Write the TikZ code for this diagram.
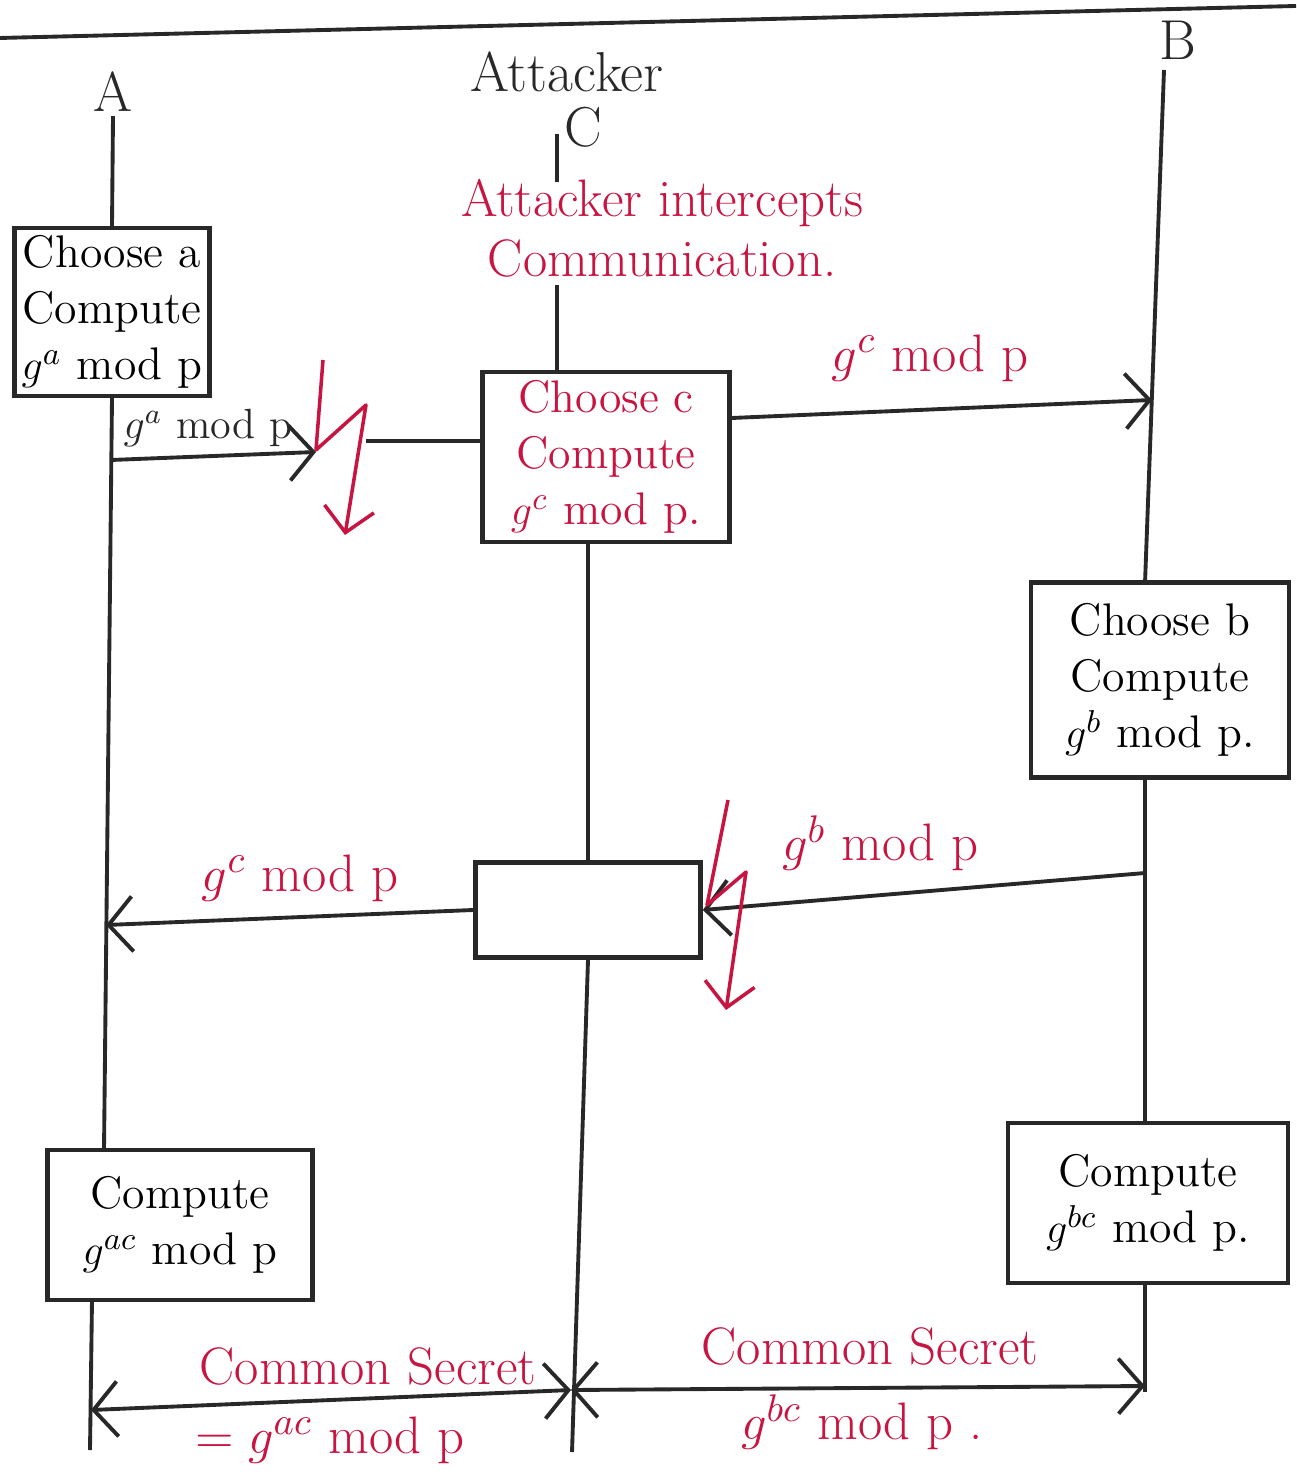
\documentclass[tikz,border=0pt]{standalone}
\usetikzlibrary{arrows.meta}
\definecolor{ink}{RGB}{40,40,40}
\definecolor{redink}{RGB}{200,20,65}
\begin{document}
\begin{tikzpicture}[x=0.01cm,y=-0.01cm,
  line/.style={draw=ink,line width=1.1pt},
  box/.style={draw=ink,line width=1.3pt,align=center,inner sep=2pt,font=\fontsize{13}{16}\selectfont},
  msg/.style={line,-{Straight Barb[length=2.4mm,width=5.5mm]}},
  both/.style={line,{Straight Barb[length=2.4mm,width=5.5mm]}-{Straight Barb[length=2.4mm,width=5.5mm]}},
  bolt/.style={draw=redink,line width=1pt,line join=round,-{Straight Barb[length=2.4mm,width=5mm]}},
  lbl/.style={text=ink,inner sep=1pt,font=\fontsize{12}{14}\selectfont},
  head/.style={text=ink,inner sep=1pt,font=\fontsize{16}{18}\selectfont},
  redlbl/.style={text=redink,font=\fontsize{15}{17}\selectfont,align=center}]
\useasboundingbox (0,0) rectangle (1296,1483);
\fill[white] (0,0) rectangle (1296,1483);

% top border line
\coordinate (tl) at (0,38); \coordinate (tr) at (1296,6);
\draw[line] (tl) -- (tr);

% heads
\node[head] (Alab) at (113,92) {A};
\node[head] (Att) at (567,72) {Attacker};
\node[head] (Clab) at (583,127) {C};
\node[head] (Blab) at (1178,40) {B};

% boxes
\node[box,minimum width=1.95cm,minimum height=1.35cm] (bA) at (112,312) {Choose a\\Compute\\$g^{a}$ mod p};
\node[redlbl] (intc) at (662,228) {Attacker intercepts\\Communication.};
\node[box,text=redink,minimum width=2.47cm,minimum height=1.7cm] (bC) at (606,457) {Choose c\\Compute\\$g^{c}$ mod p.};
\node[box,minimum width=2.58cm,minimum height=1.95cm] (bB) at (1160,680) {Choose b\\Compute\\$g^{b}$ mod p.};
\node[box,minimum width=2.25cm,minimum height=0.95cm] (mid) at (588,910) {};
\node[box,minimum width=2.65cm,minimum height=1.5cm] (bAc) at (180,1225) {Compute\\$g^{ac}$ mod p};
\node[box,minimum width=2.8cm,minimum height=1.6cm] (bBc) at (1148,1203) {Compute\\$g^{bc}$ mod p.};

% lifeline A
\coordinate (aIn) at (104,1150);
\coordinate (aOut) at (92,1300);
\coordinate (aEnd) at (90,1450);
\draw[line] (Alab.south) -- (bA.north);
\draw[line] (bA.south) -- (aIn);
\draw[line] (aOut) -- (aEnd);

% lifeline C
\coordinate (c0) at (557,134); \coordinate (c1) at (557,182); \coordinate (c2) at (557,285);
\coordinate (cEnd) at (572,1452);
\draw[line] (c0) -- (c1);
\draw[line] (c2) -- (c2 |- bC.north);
\draw[line] (mid.north |- bC.south) -- (mid.north);
\draw[line] (mid.south) -- (cEnd);

% lifeline B
\coordinate (b0) at (1164,70); \coordinate (b1) at (1145,583);
\coordinate (b2) at (1145,1123); \coordinate (b3) at (1145,1283); \coordinate (bEnd) at (1145,1392);
\draw[line] (b0) -- (b1);
\draw[line] (b1 |- bB.south) -- (b2);
\draw[line] (b3) -- (bEnd);

% message 1: A -> intercepted
\coordinate (m1s) at (111,460); \coordinate (m1e) at (316,452);
\draw[msg] (m1s) -- (m1e);
\node[lbl] (l1) at (208,428) {$g^{a}$ mod p};
\coordinate (k0) at (323,360); \coordinate (k1) at (316,450); \coordinate (k2) at (366,405); \coordinate (k3) at (345,535);
\draw[bolt] (k0) -- (k1) -- (k2) -- (k3);
\coordinate (k4) at (366,441);
\draw[line] (k4) -- (bC.west |- k4);

% message: C -> B
\coordinate (m4s) at (733,418); \coordinate (m4e) at (1152,400);
\draw[msg] (bC.east |- m4s) -- (m4e);
\node[redlbl] (l4) at (930,358) {$g^{c}$ mod p};

% message: B -> intercepted
\coordinate (m5s) at (1145,873);
\draw[msg] (m5s) -- (mid.east);
\node[redlbl] (l5) at (880,843) {$g^{b}$ mod p};
\coordinate (j0) at (728,800); \coordinate (j1) at (707,905); \coordinate (j2) at (746,872); \coordinate (j3) at (726,1010);
\draw[bolt] (j0) -- (j1) -- (j2) -- (j3);

% message: C -> A
\coordinate (m7e) at (106,925);
\draw[msg] (mid.west) -- (m7e);
\node[redlbl] (l7) at (300,878) {$g^{c}$ mod p};

% common secrets
\coordinate (aS) at (91,1410); \coordinate (cS) at (571,1390); \coordinate (bS) at (1145,1386);
\draw[both] (aS) -- (cS);
\draw[both] (cS) -- (bS);
\node[redlbl] (s1) at (368,1366) {Common Secret};
\node[redlbl] (s1b) at (330,1440) {$=g^{ac}$ mod p};
\node[redlbl] (s2) at (870,1346) {Common Secret};
\node[redlbl] (s2b) at (862,1422) {$g^{bc}$ mod p .};
\end{tikzpicture}
\end{document}
